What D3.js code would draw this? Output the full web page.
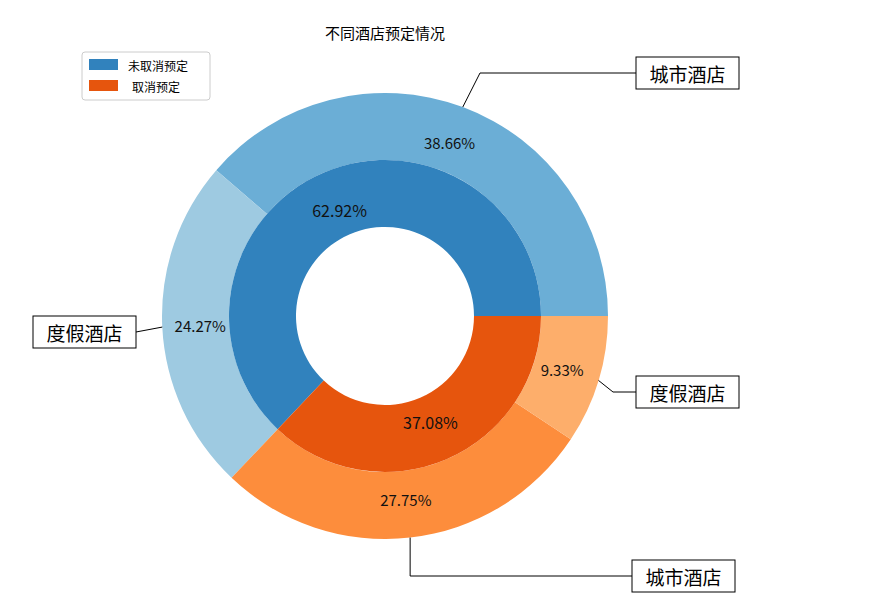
<!DOCTYPE html>
<html><head><meta charset="utf-8">
<script src="https://cdn.jsdelivr.net/npm/d3@7"></script>
<style>body{margin:0;background:#fff}text{font-family:"Noto Sans CJK SC",sans-serif}</style>
</head><body><svg id="c" width="875" height="613"></svg>
<script>
const outerLabels=["城市酒店","度假酒店","城市酒店","度假酒店"];
const outerValues=[38.66,24.27,27.75,9.33];
const outerColors=["#6baed6","#9ecae1","#fd8d3c","#fdae6b"];
const innerLabels=["未取消预定","取消预定"];
const innerValues=[62.92,37.08];
const innerColors=["#3182bd","#e6550d"];
const svg=d3.select("#c");
const cx=385,cy=316,R=223,R1=156,R0=89;
const g=svg.append("g").attr("transform",`translate(${cx},${cy})`);
const pie=d3.pie().sort(null).startAngle(Math.PI/2).endAngle(Math.PI/2-2*Math.PI);
const arcO=d3.arc().innerRadius(R1).outerRadius(R);
const arcI=d3.arc().innerRadius(R0).outerRadius(R1);
const po=pie(outerValues),pi=pie(innerValues);
g.selectAll(".o").data(po).join("path").attr("d",arcO).attr("fill",(d,i)=>outerColors[i]);
g.selectAll(".i").data(pi).join("path").attr("d",arcI).attr("fill",(d,i)=>innerColors[i]);
function pos(d,r){const a=(d.startAngle+d.endAngle)/2;return [r*Math.sin(a),-r*Math.cos(a)];}
g.selectAll(".ot").data(po).join("text").attr("x",d=>pos(d,185)[0]).attr("y",d=>pos(d,185)[1])
 .attr("text-anchor","middle").attr("dominant-baseline","central").attr("font-size",15).attr("fill","#111")
 .text(d=>d.value.toFixed(2)+"%");
g.selectAll(".it").data(pi).join("text").attr("x",d=>pos(d,115)[0]).attr("y",d=>pos(d,115)[1])
 .attr("text-anchor","middle").attr("dominant-baseline","central").attr("font-size",16).attr("fill","#111")
 .text(d=>d.value.toFixed(2)+"%");
// annotation boxes (layout)
const boxes=[{bx:636,by:57,elbow:"h"},{bx:33,by:316,elbow:"n"},{bx:632,by:560,elbow:"v"},{bx:636,by:376,elbow:"d"}];
po.forEach((d,i)=>{
  const [px,py]=pos(d,R);const sx=cx+px,sy=cy+py;const b=boxes[i];
  const w=103,h=32,ty=b.by+h/2;
  let pts;
  if(b.elbow==="h") pts=[[sx,sy],[480,ty],[b.bx,ty]];
  else if(b.elbow==="v") pts=[[sx,sy],[sx,ty],[b.bx,ty]];
  else if(b.elbow==="d") pts=[[sx,sy],[613,ty],[b.bx,ty]];
  else pts=[[sx,sy],[b.bx+w,ty]];
  svg.append("path").attr("d",d3.line()(pts)).attr("fill","none").attr("stroke","#000").attr("stroke-width",1);
  svg.append("rect").attr("x",b.bx).attr("y",b.by).attr("width",w).attr("height",h).attr("fill","#fff").attr("stroke","#000");
  svg.append("text").attr("x",b.bx+w/2).attr("y",ty).attr("text-anchor","middle").attr("dominant-baseline","central")
   .attr("font-size",19).text(outerLabels[i]);
});
svg.append("text").attr("x",385).attr("y",32).attr("text-anchor","middle").attr("dominant-baseline","central").attr("font-size",15).text("不同酒店预定情况");
const lg=svg.append("g");
lg.append("rect").attr("x",82).attr("y",52).attr("width",128).attr("height",48).attr("rx",3).attr("fill","#fff").attr("stroke","#ccc");
innerLabels.forEach((t,i)=>{
  lg.append("rect").attr("x",89).attr("y",59+i*21).attr("width",29).attr("height",11).attr("fill",innerColors[i]);
  lg.append("text").attr("x",i?132:128).attr("y",65+i*21).attr("dominant-baseline","central").attr("font-size",12).text(t);
});
</script></body></html>
